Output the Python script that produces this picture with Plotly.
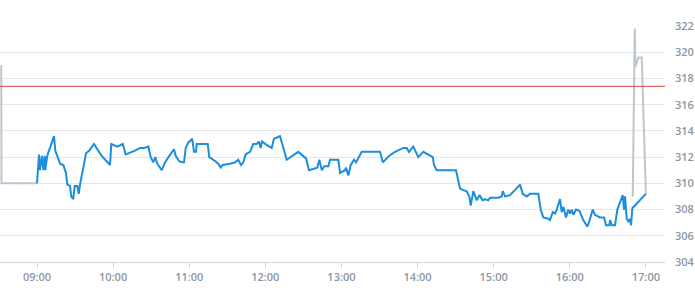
import plotly.graph_objects as go

# Regular session (blue)
main_times = [
    "09:00:00", "09:01:35", "09:02:20", "09:03:55", "09:05:00", "09:06:05", "09:06:30", "09:08:05",
    "09:13:25", "09:14:25", "09:18:10", "09:20:45", "09:22:50", "09:23:55", "09:26:00", "09:27:00",
    "09:28:35", "09:29:45", "09:31:45", "09:32:55", "09:33:55", "09:38:40", "09:41:15", "09:44:55",
    "09:51:00", "09:52:50", "09:57:35", "09:58:35", "10:03:20", "10:07:35", "10:09:55", "10:17:15",
    "10:21:10", "10:24:20", "10:27:45", "10:29:40", "10:31:40", "10:33:15", "10:34:50", "10:38:20",
    "10:40:55", "10:44:20", "10:48:00", "10:49:20", "10:52:00", "10:54:05", "10:55:55", "10:57:15",
    "10:59:15", "11:02:25", "11:03:45", "11:05:20", "11:05:55", "11:14:35", "11:15:50", "11:20:20",
    "11:22:55", "11:24:50", "11:26:25", "11:32:10", "11:36:05", "11:38:40", "11:40:50", "11:42:40",
    "11:44:30", "11:47:55", "11:50:30", "11:53:15", "11:55:00", "11:56:20", "11:57:25", "12:01:35",
    "12:05:00", "12:06:50", "12:11:35", "12:16:50", "12:26:00", "12:32:05", "12:34:25", "12:41:00",
    "12:42:35", "12:44:30", "12:46:30", "12:49:40", "12:51:00", "12:57:30", "12:58:55", "13:02:50",
    "13:03:35", "13:05:25", "13:07:20", "13:09:55", "13:11:30", "13:16:00", "13:30:25", "13:32:35",
    "13:37:45", "13:42:15", "13:48:45", "13:51:30", "13:53:15", "13:56:40", "14:00:35", "14:04:35",
    "14:09:50", "14:12:00", "14:13:00", "14:15:05", "14:30:20", "14:33:30", "14:35:35", "14:38:45",
    "14:40:50", "14:41:55", "14:44:00", "14:46:40", "14:48:45", "14:51:25", "14:53:10", "14:55:50",
    "14:57:10", "15:03:40", "15:06:20", "15:07:10", "15:09:00", "15:12:55", "15:20:50", "15:22:55",
    "15:26:05", "15:28:40", "15:35:15", "15:37:05", "15:39:10", "15:43:05", "15:44:25", "15:46:35",
    "15:48:25", "15:49:45", "15:52:20", "15:53:40", "15:55:00", "15:57:05", "15:58:50", "16:00:15",
    "16:01:35", "16:02:50", "16:04:55", "16:07:35", "16:10:40", "16:13:50", "16:15:25", "16:18:05",
    "16:19:55", "16:23:50", "16:27:00", "16:28:35", "16:31:10", "16:31:45", "16:33:05", "16:35:40",
    "16:37:30", "16:40:10", "16:41:45", "16:42:45", "16:43:35", "16:44:55", "16:46:10", "16:47:30",
    "16:48:20", "16:49:20", "17:00:00",
]
main_prices = [
    310.0, 312.2, 311.0, 312.1, 311.0, 312.1, 311.0, 312.1,
    313.6, 312.5, 311.5, 311.4, 310.8, 309.9, 309.8, 309.0,
    308.8, 309.8, 309.8, 309.2, 309.9, 312.3, 312.5, 313.0,
    312.1, 311.9, 311.4, 313.0, 312.8, 313.0, 312.2, 312.5,
    312.7, 312.7, 312.8, 312.0, 311.6, 312.0, 311.5, 311.0,
    311.6, 312.1, 312.6, 312.1, 311.7, 311.6, 311.6, 312.7,
    313.1, 313.4, 312.4, 312.4, 313.0, 313.0, 312.0, 311.7,
    311.5, 311.2, 311.4, 311.5, 311.6, 311.8, 311.4, 311.6,
    312.2, 312.4, 313.0, 313.0, 313.2, 312.7, 313.2, 312.9,
    312.7, 313.4, 313.6, 311.8, 312.4, 311.9, 311.0, 311.2,
    311.8, 311.0, 311.3, 311.3, 311.8, 311.8, 310.8, 311.0,
    311.2, 310.6, 311.4, 311.8, 311.6, 312.4, 312.4, 311.6,
    312.1, 312.4, 312.7, 312.7, 312.4, 312.8, 312.0, 312.4,
    312.1, 312.0, 311.4, 311.0, 311.0, 309.6, 309.5, 309.4,
    309.0, 308.3, 309.4, 308.7, 309.1, 308.7, 308.8, 308.7,
    308.9, 308.9, 309.0, 309.4, 309.0, 309.1, 309.9, 309.2,
    309.0, 309.2, 309.2, 308.0, 307.4, 307.3, 307.2, 307.8,
    307.7, 308.0, 308.8, 307.8, 308.2, 307.4, 308.0, 307.7,
    308.0, 307.6, 308.0, 307.9, 307.2, 306.7, 307.1, 308.0,
    307.6, 307.4, 307.4, 306.8, 306.8, 307.2, 306.8, 306.8,
    308.0, 308.8, 309.1, 308.0, 309.0, 307.3, 307.1, 307.3,
    306.8, 308.1, 309.2,
]

# Pre-open and closing auction (grey)
pre_times = ["08:31:50", "08:32:00", "09:00:00"]
pre_prices = [319.0, 310.0, 310.0]
post_times = ["16:49:40", "16:51:15", "16:51:40", "16:54:05", "16:56:45", "16:58:50", "17:00:00"]
post_prices = [309.0, 321.8, 318.9, 319.6, 319.6, 312.2, 309.2]

prev_close = 317.4
day = "2024-01-15 "
x_range = [day + "08:30:50", day + "17:15:05"]
hour_ticks = ["09:00", "10:00", "11:00", "12:00", "13:00", "14:00", "15:00", "16:00", "17:00"]
y_ticks = [304, 306, 308, 310, 312, 314, 316, 318, 320, 322]

label_font = dict(family="Open Sans", size=11, color="#8a97a4", weight=600)

fig = go.Figure()
fig.add_trace(go.Scatter(
    x=[day + t for t in pre_times], y=pre_prices, mode="lines",
    line=dict(color="#bcc6cf", width=2), hoverinfo="skip", showlegend=False))
fig.add_trace(go.Scatter(
    x=[day + t for t in post_times], y=post_prices, mode="lines",
    line=dict(color="#bcc6cf", width=2), hoverinfo="skip", showlegend=False))
fig.add_trace(go.Scatter(
    x=[day + t for t in main_times], y=main_prices, mode="lines",
    line=dict(color="#1b8fdb", width=2), showlegend=False))

fig.add_shape(type="line", xref="paper", x0=0, x1=1, yref="y", y0=prev_close, y1=prev_close,
              line=dict(color="#d9413a", width=1), layer="above")

fig.update_layout(
    width=695, height=300,
    margin=dict(l=0, r=30, t=26, b=38, autoexpand=False),
    paper_bgcolor="white", plot_bgcolor="white",
    showlegend=False,
    xaxis=dict(
        type="date", range=x_range, automargin=False,
        tickvals=[day + h for h in hour_ticks], ticktext=hour_ticks,
        showgrid=False, zeroline=False,
        showline=True, linecolor="#ccd6e0", linewidth=1,
        ticks="outside", ticklen=5, tickcolor="#ccd6e0",
        tickfont=label_font,
    ),
    yaxis=dict(
        side="right", range=[304, 322], tickvals=y_ticks, automargin=False,
        showgrid=True, gridcolor="#e6e6e6", gridwidth=1,
        zeroline=False, showline=False, ticks="",
        ticklabelstandoff=9,
        tickfont=label_font,
    ),
)

fig.write_html("out.html")
